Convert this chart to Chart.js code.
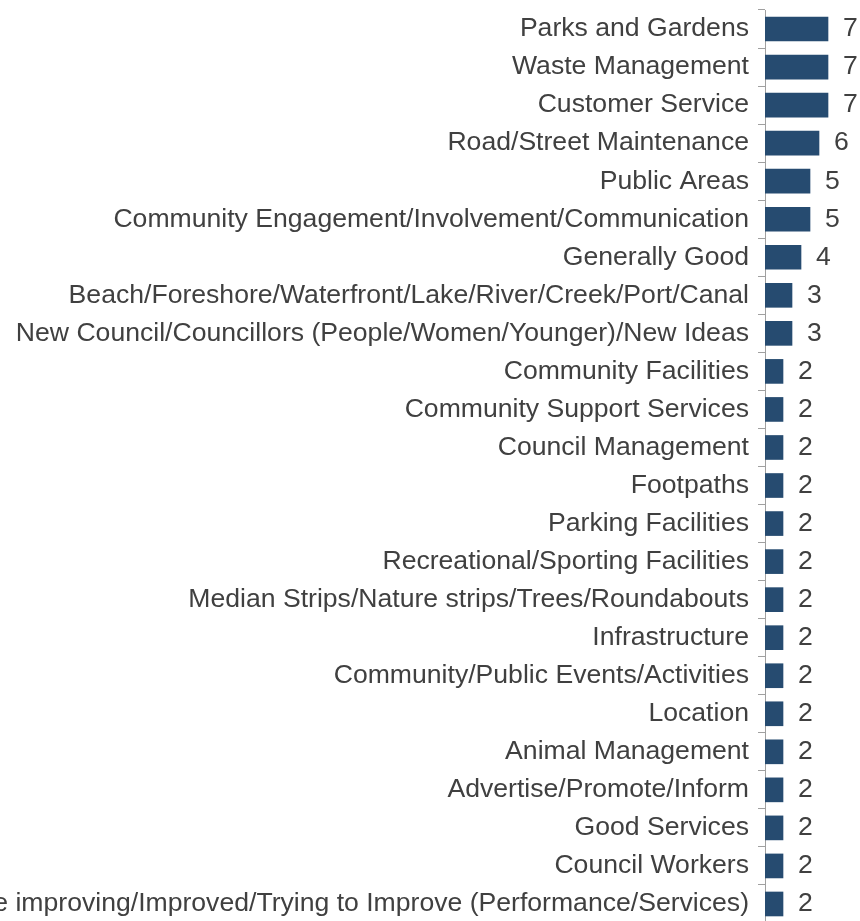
<!DOCTYPE html>
<html>
<head>
<meta charset="utf-8">
<script src="https://cdn.jsdelivr.net/npm/chart.js@4"></script>
<style>
  html, body { margin: 0; padding: 0; background: #fff; overflow: hidden; }
  canvas { display: block; }
</style>
</head>
<body>
<canvas id="chart" width="860" height="930"></canvas>
<script>
    // Category labels, top to bottom
    const categories = [
        'Parks and Gardens',
        'Waste Management',
        'Customer Service',
        'Road/Street Maintenance',
        'Public Areas',
        'Community Engagement/Involvement/Communication',
        'Generally Good',
        'Beach/Foreshore/Waterfront/Lake/River/Creek/Port/Canal',
        'New Council/Councillors (People/Women/Younger)/New Ideas',
        'Community Facilities',
        'Community Support Services',
        'Council Management',
        'Footpaths',
        'Parking Facilities',
        'Recreational/Sporting Facilities',
        'Median Strips/Nature strips/Trees/Roundabouts',
        'Infrastructure',
        'Community/Public Events/Activities',
        'Location',
        'Animal Management',
        'Advertise/Promote/Inform',
        'Good Services',
        'Council Workers',
        'Are improving/Improved/Trying to Improve (Performance/Services)'
    ];

    // Values (%)
    const values = [7, 7, 7, 6, 5, 5, 4, 3, 3, 2, 2, 2, 2, 2, 2, 2, 2, 2, 2, 2, 2, 2, 2, 2];

    const FONT_FAMILY = '"Liberation Sans", Arial, Helvetica, sans-serif';
    const FONT_SIZE = 26.6;
    const TEXT_COLOR = '#404040';
    const BAR_COLOR = '#264b70';
    const AXIS_COLOR = '#a0a0a0';

    // Value labels drawn to the right of each bar
    const valueLabels = {
        id: 'valueLabels',
        afterDatasetsDraw: function(chart) {
            const ctx = chart.ctx;
            const meta = chart.getDatasetMeta(0);
            ctx.save();
            ctx.font = FONT_SIZE + 'px ' + FONT_FAMILY;
            ctx.fillStyle = TEXT_COLOR;
            ctx.textAlign = 'left';
            ctx.textBaseline = 'middle';
            meta.data.forEach(function(bar, i) {
                ctx.fillText(String(values[i]), bar.x + 15, bar.y);
            });
            ctx.restore();
        }
    };

    new Chart(document.getElementById('chart'), {
        type: 'bar',
        data: {
            labels: categories,
            datasets: [{
                data: values,
                backgroundColor: BAR_COLOR,
                borderWidth: 0,
                barThickness: 24
            }]
        },
        options: {
            indexAxis: 'y',
            responsive: false,
            animation: false,
            layout: {
                autoPadding: false,
                padding: { top: 10, bottom: 7, right: 5, left: 0 }
            },
            plugins: {
                legend: { display: false },
                tooltip: { enabled: false }
            },
            scales: {
                x: {
                    display: false,
                    min: 0,
                    max: 10
                },
                y: {
                    afterFit: function(scale) {
                        scale.width = 765;
                        scale.paddingTop = 0;
                        scale.paddingBottom = 0;
                    },
                    border: { display: true, color: AXIS_COLOR, width: 1 },
                    grid: {
                        offset: true,
                        drawOnChartArea: false,
                        drawTicks: true,
                        tickLength: 7,
                        color: AXIS_COLOR
                    },
                    ticks: {
                        autoSkip: false,
                        padding: 9,
                        color: TEXT_COLOR,
                        font: { family: FONT_FAMILY, size: FONT_SIZE }
                    }
                }
            }
        },
        plugins: [valueLabels]
    });
</script>
</body>
</html>
